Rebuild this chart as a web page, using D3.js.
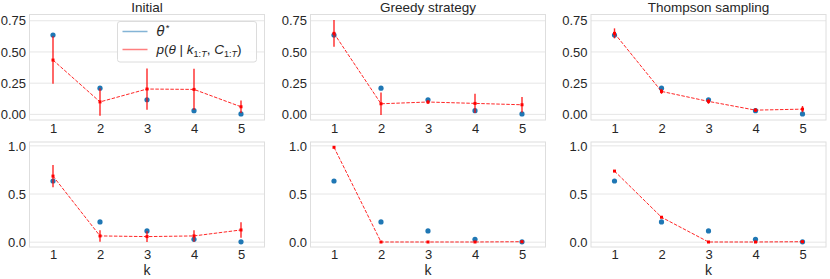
<!DOCTYPE html>
<html>
<head>
<meta charset="utf-8">
<script src="https://cdn.jsdelivr.net/npm/d3@7"></script>
<style>
  body { margin: 0; background: #fff; }
  text { font-family: "Liberation Sans", Arial, sans-serif; fill: #262626; }
</style>
</head>
<body>
<svg id="chart"></svg>
<script>
// data
const ks = [1, 2, 3, 4, 5];
const thetaStar = [0.635, 0.21, 0.117, 0.03, 0.004];
const titles = ["Initial", "Greedy strategy", "Thompson sampling"];

const initialTop = [0.435, 0.10, 0.203, 0.20, 0.061];
const initialTopErr = [0.19, 0.11, 0.165, 0.165, 0.05];
const greedyTop = [0.649, 0.085, 0.099, 0.088, 0.077];
const greedyTopErr = [0.107, 0.09, 0.015, 0.077, 0.062];
const thompsonTop = [0.649, 0.184, 0.104, 0.034, 0.042];
const thompsonTopErr = [0.04, 0.02, 0.02, 0.015, 0.025];

const initialBottom = [0.686, 0.065, 0.058, 0.065, 0.127];
const initialBottomErr = [0.115, 0.06, 0.055, 0.06, 0.08];
const greedyBottom = [0.985, 0.002, 0.002, 0.002, 0.005];
const greedyBottomErr = [0, 0, 0, 0, 0];
const thompsonBottom = [0.738, 0.259, 0.002, 0.002, 0.005];
const thompsonBottomErr = [0.006, 0.008, 0, 0, 0];

const topTicks = [0, 0.25, 0.5, 0.75];
const bottomTicks = [0, 0.5, 1.0];

// layout
const width = 830;
const height = 279;
const panelX = [29.5, 310.5, 591];
const panelW = 235;
const rows = [
  { y0: 14.5, y1: 120, pad: 3.5, domain: [-0.045, 0.80], ticks: topTicks, fmt: d3.format(".2f"),
    means: [initialTop, greedyTop, thompsonTop], errs: [initialTopErr, greedyTopErr, thompsonTopErr] },
  { y0: 142, y1: 247, pad: 3, domain: [-0.05, 1.04], ticks: bottomTicks, fmt: d3.format(".1f"),
    means: [initialBottom, greedyBottom, thompsonBottom], errs: [initialBottomErr, greedyBottomErr, thompsonBottomErr] }
];

const svg = d3.select('svg#chart').attr('width', width).attr('height', height);

rows.forEach((row, ri) => {
  panelX.forEach((px, ci) => {
    const x = d3.scaleLinear().domain([0.5, 5.5]).range([px, px + panelW]);
    const y = d3.scaleLinear().domain(row.domain).range([row.y1, row.y0]);
    const g = svg.append("g");

    // grid
    g.selectAll("line.grid")
      .data(row.ticks)
      .join("line")
      .attr("x1", px).attr("x2", px + panelW)
      .attr("y1", d => y(d)).attr("y2", d => y(d))
      .attr("stroke", "#e6e6e6")
      .attr("stroke-width", 1);

    // frame
    g.append("rect")
      .attr("x", px).attr("y", row.y0)
      .attr("width", panelW).attr("height", row.y1 - row.y0)
      .attr("fill", "none")
      .attr("stroke", "#dedede")
      .attr("stroke-width", 1);

    // y axis
    const yAxis = g.append("g")
      .attr("transform", `translate(${px},0)`)
      .call(d3.axisLeft(y).tickValues(row.ticks).tickFormat(row.fmt).tickSize(0).tickPadding(3.5));
    yAxis.select(".domain").remove();
    yAxis.selectAll("text").attr("font-size", 13).style("fill", "#262626")
      .attr("font-family", '"Liberation Sans", Arial, sans-serif');

    // x axis
    const xAxis = g.append("g")
      .attr("transform", `translate(0,${row.y1})`)
      .call(d3.axisBottom(x).tickValues(ks).tickFormat(d3.format("d")).tickSize(0).tickPadding(row.pad));
    xAxis.select(".domain").remove();
    xAxis.selectAll("text").attr("font-size", 13).style("fill", "#262626")
      .attr("font-family", '"Liberation Sans", Arial, sans-serif');

    // theta* points
    g.selectAll("circle.theta")
      .data(thetaStar)
      .join("circle")
      .attr("cx", (d, i) => x(ks[i]))
      .attr("cy", d => y(d))
      .attr("r", 2.6)
      .attr("fill", "#1f77b4");

    const means = row.means[ci];
    const errs = row.errs[ci];

    // error bars
    g.selectAll("line.err")
      .data(means)
      .join("line")
      .attr("x1", (d, i) => x(ks[i])).attr("x2", (d, i) => x(ks[i]))
      .attr("y1", (d, i) => y(d - errs[i])).attr("y2", (d, i) => y(d + errs[i]))
      .attr("stroke", "#ff0000")
      .attr("stroke-opacity", 0.85)
      .attr("stroke-width", 1.4);

    // mean line
    const line = d3.line().x((d, i) => x(ks[i])).y(d => y(d));
    g.append("path")
      .datum(means)
      .attr("d", line)
      .attr("fill", "none")
      .attr("stroke", "#ff0000")
      .attr("stroke-opacity", 0.85)
      .attr("stroke-width", 1)
      .attr("stroke-dasharray", "3.5,1.5");

    g.selectAll("rect.mk")
      .data(means)
      .join("rect")
      .attr("x", (d, i) => x(ks[i]) - 1.5)
      .attr("y", d => y(d) - 1.5)
      .attr("width", 3).attr("height", 3)
      .attr("fill", "#ff0000");

    // titles
    if (ri === 0) {
      g.append("text")
        .attr("x", px + panelW / 2)
        .attr("y", 12)
        .attr("text-anchor", "middle")
        .attr("font-size", 13.5)
        .text(titles[ci]);
    } else {
      g.append("text")
        .attr("x", px + panelW / 2)
        .attr("y", 275)
        .attr("text-anchor", "middle")
        .attr("font-size", 14)
        .text("k");
    }

    // legend
    if (ri === 0 && ci === 0) {
      const lx = px + panelW - 147;
      const ly = row.y0 + 7;
      const lg = g.append("g");
      lg.append("rect")
        .attr("x", lx).attr("y", ly)
        .attr("width", 139).attr("height", 40.5)
        .attr("rx", 2.5)
        .attr("fill", "#fff").attr("fill-opacity", 0.85)
        .attr("stroke", "#dcdcdc");
      lg.append("line")
        .attr("x1", lx + 5).attr("x2", lx + 30)
        .attr("y1", ly + 10).attr("y2", ly + 10)
        .attr("stroke", "#1f77b4").attr("stroke-opacity", 0.55).attr("stroke-width", 1.5);
      lg.append("line")
        .attr("x1", lx + 5).attr("x2", lx + 30)
        .attr("y1", ly + 28).attr("y2", ly + 28)
        .attr("stroke", "#ff0000").attr("stroke-opacity", 0.5).attr("stroke-width", 1.5);

      const t1 = lg.append("text").attr("x", lx + 39).attr("y", ly + 14.5).attr("font-size", 13.5);
      t1.append("tspan").attr("font-style", "italic").attr("font-family", '"DejaVu Sans", sans-serif').attr("font-size", 13.5).text("θ");
      t1.append("tspan").attr("font-size", 9.5).attr("dy", -5).attr("dx", 1).text("*");

      const t2 = lg.append("text").attr("x", lx + 39).attr("y", ly + 32.5).attr("font-size", 13.5)
        .attr("font-family", '"DejaVu Sans", sans-serif');
      t2.append("tspan").attr("font-style", "italic").text("p");
      t2.append("tspan").text("(");
      t2.append("tspan").attr("font-style", "italic").text("θ");
      t2.append("tspan").text(" | ");
      t2.append("tspan").attr("font-style", "italic").text("k");
      t2.append("tspan").attr("font-size", 9).attr("dy", 2.5).text("1:");
      t2.append("tspan").attr("font-size", 9).attr("font-style", "italic").text("T");
      t2.append("tspan").attr("dy", -2.5).text(", ");
      t2.append("tspan").attr("font-style", "italic").text("C");
      t2.append("tspan").attr("font-size", 9).attr("dy", 2.5).text("1:");
      t2.append("tspan").attr("font-size", 9).attr("font-style", "italic").text("T");
      t2.append("tspan").attr("dy", -2.5).text(")");
    }
  });
});
</script>
</body>
</html>
